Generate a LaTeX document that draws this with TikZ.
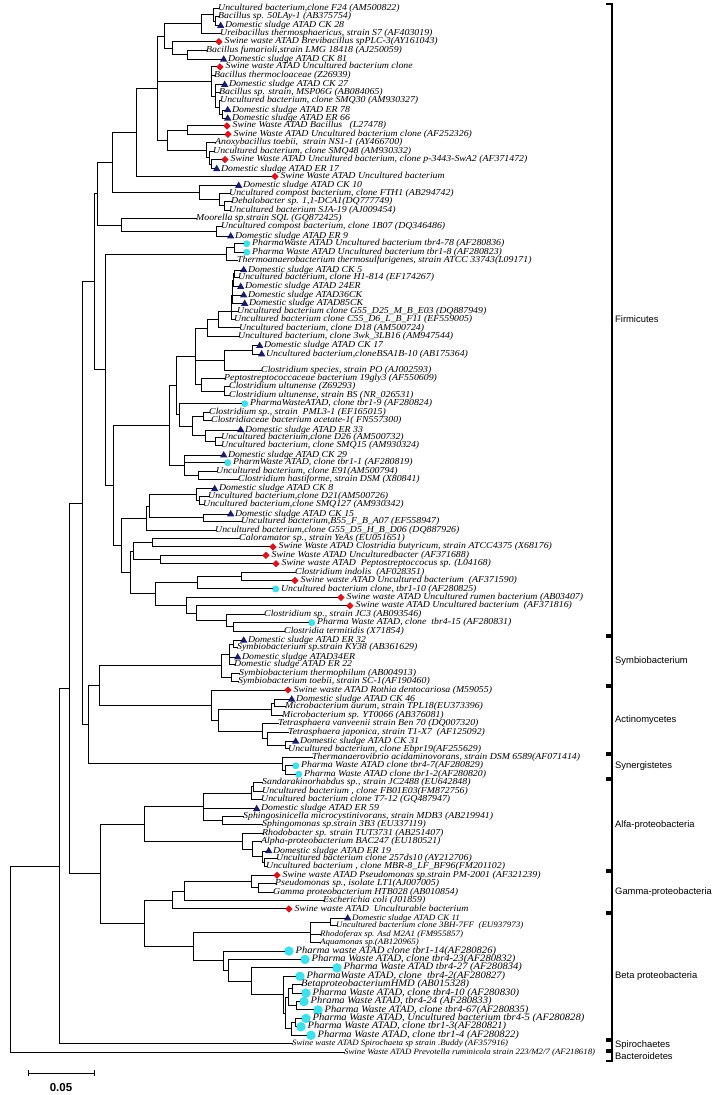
\documentclass[tikz,border=0pt]{standalone}
\usepackage{fontspec}
\setmainfont{Liberation Serif}
\newfontfamily\leaffont{Liberation Serif}[FakeStretch=1.08]
\newfontfamily\grpfont{Liberation Sans}
\usetikzlibrary{positioning,shapes.geometric}
\definecolor{dsblue}{RGB}{25,30,110}
\definecolor{swred}{RGB}{220,20,30}
\definecolor{phcyan}{RGB}{60,225,235}
%% leaf: [style] name, x of tip, row, text
\newcommand{\leaf}[5][leaf]{\node[#1] (#2) at (#3,{8+8.42*(#4-1)}) {#5};}
%% marked leaf: [style] mark, name, x of tip, row, text
\newcommand{\mleaf}[6][leaf]{%
  \node[#2] (#3) at (#4,{8+8.42*(#5-1)}) {};
  \node[#1,right=1.5pt of #3] (#3t) {#6};}
%% clade: name, x, children from top to bottom
\newcommand{\clade}[3]{%
  \foreach \ch [count=\nc] in {#3}{\ifnum\nc=1 \xdef\firstc{\ch}\fi\xdef\lastc{\ch}}%
  \path (\firstc.center) -- (\lastc.center) coordinate[pos=.5] (#1m);
  \coordinate (#1) at (#2,0 |- #1m);
  \draw[branch] (#1 |- \firstc.center) -- (#1 |- \lastc.center);
  \foreach \ch in {#3}{\draw[branch] (#1 |- \ch.center) -- (\ch);}}
%% group bracket: name, top, bottom, label
\newcommand{\group}[4]{%
  \draw[grp] (606,#2) -- (612,#2) -- (612,#3) -- (606,#3);
  \node[grplabel] (#1) at (615,{(#2+#3)/2}) {#4};}

\begin{document}
\begin{tikzpicture}[x=1pt,y=-1pt,
    branch/.style={line width=1pt,line cap=rect},
    leaf/.style={anchor=west,inner sep=0pt,text height=5.6pt,text depth=1.5pt,
      font=\leaffont\fontsize{9.1}{9}\selectfont\itshape},
    bigleaf/.style={leaf,font=\leaffont\fontsize{9.8}{10}\selectfont\itshape},
    smallleaf/.style={leaf,font=\leaffont\fontsize{8.3}{9}\selectfont\itshape},
    thinleaf/.style={leaf,font=\leaffont\fontsize{8.15}{9}\selectfont\itshape},
    dsmark/.style={regular polygon,regular polygon sides=3,fill=dsblue,
      minimum size=8.5pt,inner sep=0pt,anchor=west,yshift=-1pt},
    swmark/.style={diamond,fill=swred,minimum size=7.5pt,inner sep=0pt,anchor=west},
    phmark/.style={circle,fill=phcyan,minimum size=7pt,inner sep=0pt,anchor=west},
    phbig/.style={circle,fill=phcyan,minimum size=9.5pt,inner sep=0pt,anchor=west},
    grp/.style={line width=1.1pt},
    grplabel/.style={anchor=west,inner sep=0pt,font=\grpfont\fontsize{9.4}{9}\selectfont}]
\useasboundingbox (0,0) rectangle (728,1095);

%% Firmicutes
\leaf{l1}{218}{1}{Uncultured bacterium,clone F24 (AM500822)}
\leaf{l2}{218}{2}{Bacillus sp. 50LAy-1 (AB375754)}
\mleaf{dsmark}{l3}{218}{3}{Domestic sludge ATAD CK 28}
\leaf{l4}{220}{4}{Ureibacillus thermosphaericus, strain S7 (AF403019)}
\mleaf{swmark}{l5}{215}{5}{Swine waste ATAD Brevibacillus spPLC-3(AY161043)}
\leaf{l6}{206}{6}{Bacillus fumarioli,strain LMG 18418 (AJ250059)}
\mleaf{dsmark}{l7}{221}{7}{Domestic sludge ATAD CK 81}
\mleaf{swmark}{l8}{216}{8}{Swine waste ATAD Uncultured bacterium clone}
\leaf{l9}{214}{9}{Bacillus thermocloaceae (Z26939)}
\mleaf{dsmark}{l10}{222}{10}{Domestic sludge ATAD CK 27}
\leaf{l11}{219}{11}{Bacillus sp. strain, MSP06G (AB084065)}
\leaf{l12}{220}{12}{Uncultured bacterium, clone SMQ30 (AM930327)}
\mleaf{dsmark}{l13}{225}{13}{Domestic sludge ATAD ER 78}
\mleaf{dsmark}{l14}{225}{14}{Domestic sludge ATAD ER 66}
\mleaf{swmark}{l15}{223}{15}{Swine Waste ATAD Bacillus~~~(L27478)}
\mleaf{swmark}{l16}{224}{16}{Swine Waste ATAD Uncultured bacterium clone (AF252326)}
\leaf{l17}{215}{17}{Anoxybacillus toebii,~ strain NS1-1 (AY466700)}
\leaf{l18}{213}{18}{Uncultured bacterium, clone SMQ48 (AM930332)}
\mleaf{swmark}{l19}{221}{19}{Swine Waste ATAD Uncultured bacterium, clone p-3443-SwA2 (AF371472)}
\mleaf{dsmark}{l20}{214}{20}{Domestic sludge ATAD ER 17}
\mleaf{swmark}{l21}{271}{21}{Swine Waste ATAD Uncultured bacterium}
\mleaf{dsmark}{l22}{236}{22}{Domestic sludge ATAD CK 10}
\leaf{l23}{229}{23}{Uncultured compost bacterium, clone FTH1 (AB294742)}
\leaf{l24}{231}{24}{Dehalobacter sp. 1,1-DCA1(DQ777749)}
\leaf{l25}{229}{25}{Uncultured bacterium SJA-19 (AJ009454)}
\leaf{l26}{196}{26}{Moorella sp.strain SQL (GQ872425)}
\leaf{l27}{221}{27}{Uncultured compost bacterium, clone 1B07 (DQ346486)}
\mleaf{dsmark}{l28}{228}{28}{Domestic sludge ATAD ER 9}
\mleaf{phmark}{l29}{243}{29}{PharmaWaste ATAD Uncultured bacterium tbr4-78 (AF280836)}
\mleaf{phmark}{l30}{243}{30}{Pharma Waste ATAD Uncultured bacterium tbr1-8 (AF280823)}
\leaf{l31}{237}{31}{Thermoanaerobacterium thermosulfurigenes, strain ATCC 33743(L09171)}
\mleaf{dsmark}{l32}{241}{32}{Domestic sludge ATAD CK 5}
\leaf{l33}{238}{33}{Uncultured bacterium, clone H1-814 (EF174267)}
\mleaf{dsmark}{l34}{238}{34}{Domestic sludge ATAD 24ER}
\mleaf{dsmark}{l35}{241}{35}{Domestic sludge ATAD36CK}
\mleaf{dsmark}{l36}{242}{36}{Domestic sludge ATAD85CK}
\leaf{l37}{237}{37}{Uncultured bacterium clone G55\_D25\_M\_B\_E03 (DQ887949)}
\leaf{l38}{234}{38}{Uncultured bacterium clone C55\_D6\_L\_B\_F11 (EF559005)}
\leaf{l39}{239}{39}{Uncultured bacterium, clone D18 (AM500724)}
\leaf{l40}{238}{40}{Uncultured bacterium, clone 3wk\_3LB16 (AM947544)}
\mleaf{dsmark}{l41}{257}{41}{Domestic sludge ATAD CK 17}
\mleaf{dsmark}{l42}{259}{42}{Uncultured bacterium,cloneBSA1B-10 (AB175364)}
\leaf{l43}{261}{44}{Clostridium species, strain PO (AJ002593)}
\leaf{l44}{224}{45}{Peptostreptococcaceae bacterium 19gly3 (AF550609)}
\leaf{l45}{229}{46}{Clostridium ultunense (Z69293)}
\leaf{l46}{229}{47}{Clostridium ultunense, strain BS (NR\_026531)}
\mleaf{phmark}{l47}{241}{48}{PharmaWasteATAD, clone tbr1-9 (AF280824)}
\leaf{l48}{209}{49}{Clostridium sp., strain~ PML3-1 (EF165015)}
\leaf{l49}{211}{50}{Clostridiaceae bacterium acetate-1( FN557300)}
\mleaf{dsmark}{l50}{238}{51}{Domestic sludge ATAD ER 33}
\leaf{l51}{221}{52}{Uncultured bacterium,clone D26 (AM500732)}
\leaf{l52}{221}{53}{Uncultured bacterium, clone SMQ15 (AM930324)}
\mleaf{dsmark}{l53}{221}{54}{Domestic sludge ATAD CK 29}
\mleaf{phmark}{l54}{224}{55}{PharmWaste ATAD, clone tbr1-1 (AF280819)}
\leaf{l55}{216}{56}{Uncultured bacterium, clone E91(AM500794)}
\leaf{l56}{238}{57}{Clostridium hastiforme, strain DSM (X80841)}
\mleaf{dsmark}{l57}{212}{58}{Domestic sludge ATAD CK 8}
\leaf{l58}{208}{59}{Uncultured bacterium,clone D21(AM500726)}
\leaf{l59}{203}{60}{Uncultured bacterium,clone SMQ127 (AM930342)}
\mleaf{dsmark}{l60}{228}{61}{Domestic sludge ATAD CK 15}
\leaf{l61}{241}{62}{Uncultured bacterium,B55\_F\_B\_A07 (EF558947)}
\leaf{l62}{215}{63}{Uncultured bacterium,clone G55\_D5\_H\_B\_D06 (DQ887926)}
\leaf{l63}{239}{64}{Caloramator sp., strain YeAs (EU051651)}
\mleaf{swmark}{l64}{269}{65}{Swine Waste ATAD Clostridia butyricum, strain ATCC4375 (X68176)}
\mleaf{swmark}{l65}{262}{66}{Swine Waste ATAD Unculturedbacter (AF371688)}
\mleaf{swmark}{l66}{272}{67}{Swine waste ATAD~ Peptostreptoccocus sp. (L04168)}
\leaf{l67}{295}{68}{Clostridium indolis~ (AF028351)}
\mleaf{swmark}{l68}{291}{69}{Swine waste ATAD Uncultured bacterium~ (AF371590)}
\mleaf{phmark}{l69}{272}{70}{Uncultured bacterium clone, tbr1-10 (AF280825)}
\mleaf{swmark}{l70}{337}{71}{Swine waste ATAD Uncultured rumen bacterium (AB03407)}
\mleaf{swmark}{l71}{346}{72}{Swine waste ATAD Uncultured bacterium~ (AF371816)}
\leaf{l72}{264}{73}{Clostridium sp., strain JC3 (AB093546)}
\mleaf{phmark}{l73}{308}{74}{Pharma Waste ATAD, clone~ tbr4-15 (AF280831)}
\leaf{l74}{284}{75}{Clostridia termitidis (X71854)}
%% Symbiobacterium
\mleaf{dsmark}{l75}{241}{76}{Domestic sludge ATAD ER 32}
\leaf{l76}{237}{77}{Symbiobacterium sp.strain KY38 (AB361629)}
\mleaf{dsmark}{l77}{235}{78}{Domestic sludge ATAD34ER}
\leaf{l78}{234}{79}{Domestic sludge ATAD ER 22}
\leaf{l79}{239}{80}{Symbiobacterium thermophilum (AB004913)}
\leaf{l80}{238}{81}{Symbiobacterium toebii, strain SC-1(AF190460)}
%% Actinomycetes
\mleaf{swmark}{l81}{284}{82}{Swine waste ATAD Rothia dentocariosa (M59055)}
\mleaf{dsmark}{l82}{289}{83}{Domestic sludge ATAD CK 46}
\leaf{l83}{285}{84}{Microbacterium aurum, strain TPL18(EU373396)}
\leaf{l84}{282}{85}{Microbacterium sp. YT0066 (AB376081)}
\leaf{l85}{278}{86}{Tetrasphaera vanveenii strain Ben 70 (DQ007320)}
\leaf{l86}{288}{87}{Tetrasphaera japonica, strain T1-X7~ (AF125092)}
\mleaf{dsmark}{l87}{293}{88}{Domestic sludge ATAD CK 31}
\leaf{l88}{288}{89}{Uncultured bacterium, clone Ebpr19(AF255629)}
%% Synergistetes
\leaf{l89}{312}{90}{Thermanaerovibrio acidaminovorans, strain DSM 6589(AF071414)}
\mleaf{phmark}{l90}{292}{91}{Pharma Waste ATAD clone tbr4-7(AF280829)}
\mleaf{phmark}{l91}{295}{92}{Pharma Waste ATAD clone tbr1-2(AF280820)}
%% Alfa-proteobacteria
\leaf{l92}{262}{93}{Sandarakinorhabdus sp., strain JC2488 (EU642848)}
\leaf{l93}{262}{94}{Uncultured bacterium , clone FB01E03(FM872756)}
\leaf{l94}{261}{95}{Uncultured bacterium clone T7-12 (GQ487947)}
\mleaf{dsmark}{l95}{254}{96}{Domestic sludge ATAD ER 59}
\leaf{l96}{243}{97}{Sphingosinicella microcystinivorans, strain MDB3 (AB219941)}
\leaf{l97}{262}{98}{Sphingomonas sp.strain 3B3 (EU337119)}
\leaf{l98}{262}{99}{Rhodobacter sp. strain TUT3731 (AB251407)}
\leaf{l99}{261}{100}{Alpha-proteobacterium BAC247 (EU180521)}
\mleaf{dsmark}{l100}{266}{101}{Domestic sludge ATAD ER 19}
\leaf{l101}{276}{102}{Uncultured bacterium clone 257ds10 (AY212706)}
\leaf{l102}{266}{103}{Uncultured bacterium , clone MBR-8\_LF\_BF96(FM201102)}
%% Gamma-proteobacteria
\mleaf{swmark}{l103}{273}{104}{Swine waste ATAD Pseudomonas sp.strain PM-2001 (AF321239)}
\leaf{l104}{275}{105}{Pseudomonas sp., isolate LT1(AJ007005)}
\leaf{l105}{273}{106}{Gamma proteobacterium HTB028 (AB010854)}
\leaf{l106}{323}{107}{Escherichia coli (J01859)}
\mleaf{swmark}{l107}{285}{108}{Swine waste ATAD~ Unculturable bacterium}
%% Beta proteobacteria
\mleaf[smallleaf]{dsmark}{l108}{345}{109}{Domestic sludge ATAD CK 11}
\leaf[smallleaf]{l109}{336}{110}{Uncultured bacterium clone 3BH-7FF~ (EU937973)}
\leaf[smallleaf]{l110}{320}{111}{Rhodoferax sp. Asd M2A1 (FM955857)}
\leaf[smallleaf]{l111}{320}{112}{Aquamonas sp.(AB120965)}
\mleaf[bigleaf]{phbig}{l112}{284}{113}{Pharma waste ATAD clone tbr1-14(AF280826)}
\mleaf[bigleaf]{phbig}{l113}{300}{114}{Pharma Waste ATAD, clone tbr4-23(AF280832)}
\mleaf[bigleaf]{phbig}{l114}{332}{115}{Pharma Waste ATAD tbr4-27 (AF280834)}
\mleaf[bigleaf]{phbig}{l115}{295}{116}{PharmaWaste ATAD, clone~ tbr4-2(AF280827)}
\leaf[bigleaf]{l116}{301}{117}{BetaproteobacteriumHMD (AB015328)}
\mleaf[bigleaf]{phbig}{l117}{301}{118}{Pharma Waste ATAD, clone tbr4-10 (AF280830)}
\mleaf[bigleaf]{phbig}{l118}{299}{119}{Phrama Waste ATAD, tbr4-24 (AF280833)}
\mleaf[bigleaf]{phbig}{l119}{313}{120}{Pharma Waste ATAD, clone tbr4-67(AF280835)}
\mleaf[bigleaf]{phbig}{l120}{301}{121}{Pharma Waste ATAD, Uncultured bacterium tbr4-5 (AF280828)}
\mleaf[bigleaf]{phbig}{l121}{296}{122}{Pharma Waste ATAD, clone tbr1-3(AF280821)}
\mleaf[bigleaf]{phbig}{l122}{306}{123}{Pharma Waste ATAD, clone tbr1-4 (AF280822)}
%% Spirochaetes, Bacteroidetes
\leaf[thinleaf]{l123}{292}{124}{Swine waste ATAD Spirochaeta sp strain .Buddy (AF357916)}
\leaf[thinleaf]{l124}{344}{125}{Swine Waste ATAD Prevotella ruminicola strain 223/M2/7 (AF218618)}

%% Bacillus part
\clade{nA2}{215}{l2,l3}
\clade{nA}{213}{l1,nA2}
\clade{nB}{201}{nA,l4}
\clade{nC}{187}{l6,l7}
\clade{nD}{172}{l5,nC}
\clade{nE}{164}{nB,nD}
\clade{nF4}{222}{l13,l14}
\clade{nF3}{219}{l12,nF4}
\clade{nF2}{215}{l10,l11,nF3}
\clade{nF}{211}{l8,l9,nF2}
\clade{nL}{187}{l15,l16}
\clade{nC3}{211}{l19,l20}
\clade{nC2}{209}{l18,nC3}
\clade{nC1}{206}{l17,nC2}
\clade{nDD}{167}{nL,nC1}
\clade{n157}{157}{nE,nF,nDD}
\clade{n136}{136}{n157,l21}
\clade{nDS}{224}{l24,l25}
\clade{nFT}{219}{l23,nDS}
\clade{n199}{199}{l22,nFT}
\clade{n112}{112}{n136,n199}
\clade{nER9}{216}{l27,l28}
\clade{nMo}{121}{l26,nER9}
\clade{n96}{97}{n112,nMo}
\clade{nPh1}{234}{l29,l30}
\clade{nPh}{226}{nPh1,l31}
%% Clostridia part
\clade{nK1}{234}{l32,l33}
\clade{nK2}{233}{nK1,l34}
\clade{nK3}{232.5}{nK2,l35}
\clade{nK4}{232}{nK3,l36}
\clade{nK5}{231.5}{nK4,l37}
\clade{nK6}{231}{nK5,l38}
\clade{nD18}{218}{nK6,l39}
\clade{n207}{207}{nD18,l40}
\clade{nCK17}{252}{l41,l42}
\clade{n224}{224}{nCK17,l43}
\clade{nCu}{224}{l45,l46}
\clade{n201}{201}{l44,nCu}
\clade{n196}{195}{n207,n224,n201}
\clade{n203}{203}{l48,l49}
\clade{n215}{215}{l51,l52}
\clade{n205}{205}{l50,n215}
\clade{n192}{192}{n203,n205}
\clade{n179}{179}{l47,n192}
\clade{n176}{176}{n196,n179}
\clade{n198}{198}{l55,l56}
\clade{n184}{184}{l53,l54,n198}
\clade{n169}{169}{n176,n184}
\clade{nD21}{199}{l58,l59}
\clade{nCK8}{196}{l57,nD21}
\clade{nCK15}{203}{l60,l61}
\clade{n149}{149}{nCK8,nCK15}
\clade{n146}{146}{n149,l62}
\clade{n152}{152}{l63,l64}
\clade{n160}{160}{l65,l66}
\clade{n133}{133}{n152,n160}
\clade{n241}{241}{l67,l68}
\clade{nT10}{197}{n241,l69}
\clade{n233}{233}{l73,l74}
\clade{n226}{226}{l72,n233}
\clade{nRu2}{196}{l71,n226}
\clade{n186}{186}{l70,nRu2}
\clade{n155}{155}{nT10,n186}
\clade{n130}{130}{n133,n155}
\clade{n121}{121}{n146,n130}
\clade{n113}{113}{n169,n121}
\clade{nY}{105}{nPh,n113}
\clade{nX}{94}{n96,nY}
%% Symbiobacterium
\clade{nSy1}{233}{l75,l76}
\clade{nSy2}{229}{nSy1,l77,l78}
\clade{nSy3}{231}{l79,l80}
\clade{nSy}{221}{nSy2,nSy3}
%% Actinomycetes
\clade{nMi1}{274}{l82,l83}
\clade{nMi}{271}{nMi1,l84}
\clade{nCK31}{285}{l87,l88}
\clade{nTj}{267}{l86,nCK31}
\clade{nTe}{262}{l85,nTj}
\clade{n218}{218}{nMi,nTe}
\clade{nAct}{211}{l81,n218}
\clade{n99}{99}{nSy,nAct}
%% Synergistetes
\clade{nSg1}{285}{l90,l91}
\clade{nSg}{282}{l89,nSg1}
\clade{n88}{88}{n99,nSg}
\clade{n82}{82}{nX,n88}
%% Alfa-proteobacteria
\clade{nSa}{253}{l92,l93}
\clade{nT7}{251}{nSa,l94}
\clade{nSp}{222}{l96,l97}
\clade{nER}{203}{nT7,l95,nSp}
\clade{n257}{264}{l101,l102}
\clade{nER19}{262}{l100,n257}
\clade{nBAC}{252}{l99,nER19}
\clade{nRh}{242}{l98,nBAC}
\clade{nAl}{144}{nER,nRh}
%% Gamma-proteobacteria
\clade{nLT}{258}{l104,l105}
\clade{nPM}{251}{l103,nLT}
\clade{nEc}{184}{nPM,l106}
\clade{nGa}{172}{nEc,l107}
%% Beta proteobacteria
\clade{nCK11}{330}{l108,l109}
\clade{nRf}{310}{nCK11,l110,l111}
\clade{nHM}{292}{l116,l117}
\clade{nT24}{296}{l118,l119}
\clade{nB1}{288}{nHM,nT24}
\clade{nT53}{295}{l120,l121}
\clade{nT5}{291}{nT53,l122}
\clade{nB2}{285}{nB1,nT5}
\clade{nT2}{283}{l115,nB2}
\clade{nT27}{251}{l114,nT2}
\clade{nT23}{228}{l113,nT27}
\clade{nT14}{223}{l112,nT23}
\clade{nBe}{193}{nRf,nT14}
\clade{nGB}{144}{nGa,nBe}
\clade{n100}{100}{nAl,nGB}
%% root
\clade{n69}{69}{n82,n100}
\clade{n59}{59}{n69,l123}
\clade{nRoot}{10}{n59,l124}

%% groups
\group{g1}{4}{635}{Firmicutes}
\group{g2}{637}{685}{Symbiobacterium}
\group{g3}{687}{753}{Actinomycetes}
\group{g4}{755}{778}{Synergistetes}
\group{g5}{780}{870}{Alfa-proteobacteria}
\group{g6}{872}{912}{Gamma-proteobacteria}
\group{g7}{914}{1039}{Beta proteobacteria}
\group{g8}{1041}{1050}{Spirochaetes}
\group{g9}{1052}{1061}{Bacteroidetes}

%% scale bar
\coordinate (sbL) at (28,1073);
\coordinate (sbR) at (94,1073);
\draw[line width=0.8pt] (sbL) -- (sbR);
\draw[line width=0.8pt] ([yshift=3pt]sbL) -- ([yshift=-3pt]sbL);
\draw[line width=0.8pt] ([yshift=3pt]sbR) -- ([yshift=-3pt]sbR);
\node[font=\grpfont\bfseries\fontsize{11.5}{11}\selectfont] (sbT) at (61,1088) {0.05};
\end{tikzpicture}
\end{document}
